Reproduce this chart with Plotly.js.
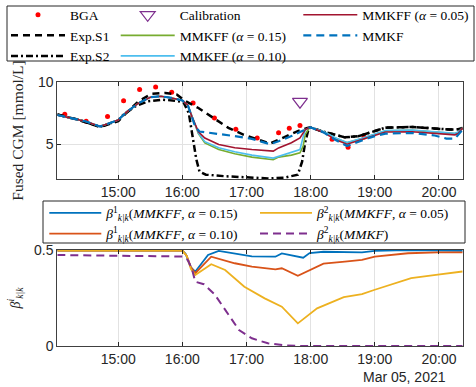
<!DOCTYPE html>
<html><head><meta charset="utf-8">
<script src="https://cdn.plot.ly/plotly-3.0.1.min.js"></script>
<style>html,body{margin:0;padding:0;background:#fff}</style>
</head><body><div id="chart" style="width:476px;height:387px"></div>
<script>
const day = '2021-03-05 ';
const tickLabels = ['15:00','16:00','17:00','18:00','19:00','20:00'];
const xRange = ['14:03:00','20:22:30'];
const dateLabel = 'Mar 05, 2021';

// BGA reference measurements
const bgaTime = ['14:10','14:30','14:50','15:05','15:20','15:35','15:50','16:10','16:30','16:50','17:10','17:30','17:40','17:50','18:20','18:35','18:50'];
const bgaValue = [7.41,6.85,7.22,8.49,9.40,9.60,9.18,8.32,7.10,6.21,5.49,5.91,6.29,6.51,5.39,4.75,5.57];
// Calibration
const calibTime = ['17:50'];
const calibValue = [8.42];
// Exp.S1
const s1Time = ['14:03','14:22','14:43','15:00','15:08','15:19','15:31','15:44','15:55','16:02','16:15','16:31','16:43','16:57','17:10','17:22','17:35','17:48','17:57','18:00','18:10','18:22','18:32','18:45','19:00','19:10','19:35','19:56','20:10','20:18','20:22'];
const s1Value = [7.38,6.98,6.37,6.85,7.55,8.45,9.04,9.12,8.98,8.50,7.91,7.03,6.31,5.77,5.37,5.05,5.55,6.05,6.30,6.35,6.05,5.75,5.55,5.65,6.05,6.33,6.38,6.25,6.18,6.20,6.30];
// Exp.S2
const s2Time = ['14:03','14:22','14:43','15:00','15:03','15:16','15:28','15:41','15:53','16:01','16:06','16:10','16:13','16:16','16:22','16:40','17:00','17:20','17:35','17:45','17:48','17:52','17:55','17:58','18:00','18:10','18:22','18:32','18:45','19:00','19:10','19:35','19:56','20:10','20:18','20:22'];
const s2Value = [7.38,6.98,6.40,6.90,7.25,8.05,8.45,8.58,8.50,8.38,7.50,5.50,3.80,2.80,2.55,2.42,2.33,2.25,2.30,2.45,2.55,3.60,5.20,6.20,6.35,6.05,5.75,5.55,5.65,6.05,6.33,6.38,6.25,6.18,6.20,6.30];
// MMKFF (shared time grid)
const mmkffTime = ['14:03','14:20','14:30','14:43','14:55','15:00','15:08','15:19','15:30','15:40','15:50','16:00','16:05','16:09','16:15','16:21','16:34','16:49','17:05','17:25','17:30','17:42','17:50','17:53','17:55','17:58','18:00','18:12','18:23','18:34','18:48','19:00','19:10','19:35','19:56','20:07','20:15','20:18','20:22'];
const mmkff015 = [7.35,7.00,6.82,6.42,6.75,6.95,7.60,8.30,8.78,8.85,8.72,8.52,8.15,7.20,5.85,5.10,4.57,4.23,3.96,3.75,3.96,4.12,4.31,4.84,5.80,6.20,6.35,6.01,5.50,5.12,5.45,5.80,6.08,6.12,6.00,5.90,5.85,5.95,6.30];
const mmkff010 = [7.35,7.00,6.82,6.42,6.75,6.95,7.60,8.30,8.78,8.85,8.72,8.52,8.15,7.20,5.90,5.20,4.71,4.39,4.12,3.88,4.01,4.31,4.57,5.60,6.15,6.30,6.35,6.03,5.52,5.14,5.47,5.82,6.10,6.14,6.02,5.92,5.87,5.97,6.30];
const mmkff005 = [7.35,7.00,6.82,6.42,6.75,6.95,7.60,8.30,8.78,8.85,8.72,8.52,8.15,7.20,6.00,5.50,4.97,4.71,4.57,4.44,4.70,5.11,5.51,5.90,6.18,6.30,6.35,5.95,5.37,5.00,5.37,5.70,5.98,6.00,5.88,5.80,5.75,5.85,6.30];
// MMKF
const mmkfTime = ['14:03','14:20','14:30','14:43','14:55','15:00','15:08','15:19','15:30','15:40','15:50','16:00','16:05','16:09','16:12','16:16','16:34','16:49','17:05','17:22','17:30','17:42','17:53','17:57','18:00','18:12','18:23','18:34','18:48','19:00','19:10','19:35','19:56','20:07','20:15','20:22'];
const mmkfValue = [7.35,7.00,6.82,6.42,6.75,6.95,7.60,8.30,8.78,8.85,8.72,8.52,8.15,7.20,6.40,6.02,5.83,5.65,5.43,5.00,5.24,5.65,6.10,6.31,6.35,5.95,5.35,4.85,5.30,5.65,5.85,5.90,5.70,5.45,5.45,6.15];

// Bottom: beta weights
const b1aTime = ['14:03','16:00','16:03','16:08','16:12','16:24','16:34','16:49','17:05','17:27','17:33','17:53','17:59','18:12','18:30','18:48','19:00','19:30','20:22'];
const b1aValue = [0.497,0.497,0.48,0.41,0.387,0.474,0.495,0.483,0.467,0.465,0.482,0.460,0.484,0.491,0.489,0.488,0.495,0.499,0.496];
const b1bTime = ['14:03','16:00','16:04','16:08','16:12','16:27','16:49','17:05','17:27','17:33','17:48','17:59','18:12','18:32','18:48','19:00','19:16','19:31','19:59','20:22'];
const b1bValue = [0.497,0.497,0.47,0.41,0.379,0.465,0.431,0.413,0.399,0.405,0.366,0.396,0.429,0.439,0.448,0.465,0.474,0.483,0.488,0.488];
const b2aTime = ['14:03','16:00','16:04','16:08','16:12','16:27','16:40','16:58','17:17','17:33','17:48','18:06','18:31','18:48','19:00','19:16','19:34','19:59','20:22'];
const b2aValue = [0.497,0.497,0.47,0.40,0.370,0.426,0.396,0.309,0.248,0.205,0.118,0.196,0.254,0.270,0.293,0.322,0.353,0.372,0.388];
const b2bTime = ['14:03','15:30','15:45','16:00','16:05','16:09','16:12','16:20','16:30','16:41','16:53','17:05','17:20','17:35','17:50','20:22'];
const b2bValue = [0.474,0.470,0.466,0.466,0.448,0.400,0.335,0.322,0.270,0.179,0.083,0.040,0.014,0.004,0,0];

const D = a => a.map(t => day + t);
const W = 476, H = 387;
const px = v => v / W, py = v => 1 - v / H;

const serif = 'Liberation Serif, DejaVu Serif, serif';
const sans = 'Liberation Sans, Arial, sans-serif';

const data = [
  {x: D(bgaTime), y: bgaValue, name: 'BGA', mode: 'markers', marker: {color: '#FF0000', size: 5}, legend: 'legend', xaxis: 'x', yaxis: 'y'},
  {x: D(s1Time), y: s1Value, name: 'Exp.S1', mode: 'lines', line: {color: '#000', width: 2.5, dash: '7px,5px'}, legend: 'legend', xaxis: 'x', yaxis: 'y'},
  {x: D(s2Time), y: s2Value, name: 'Exp.S2', mode: 'lines', line: {color: '#000', width: 2.5, dash: '7px,3px,2px,3px'}, legend: 'legend', xaxis: 'x', yaxis: 'y'},
  {x: D(calibTime), y: calibValue, name: 'Calibration', mode: 'markers', marker: {symbol: 'triangle-down-open', color: '#7E2F8E', size: 13, line: {width: 1.2}}, legend: 'legend2', xaxis: 'x', yaxis: 'y'},
  {x: D(mmkffTime), y: mmkff015, name: 'MMKFF (<i>α</i> = 0.15)', mode: 'lines', line: {color: '#77AC30', width: 1.6}, legend: 'legend2', xaxis: 'x', yaxis: 'y'},
  {x: D(mmkffTime), y: mmkff010, name: 'MMKFF (<i>α</i> = 0.10)', mode: 'lines', line: {color: '#4DBEEE', width: 1.6}, legend: 'legend2', xaxis: 'x', yaxis: 'y'},
  {x: D(mmkffTime), y: mmkff005, name: 'MMKFF (<i>α</i> = 0.05)', mode: 'lines', line: {color: '#A2142F', width: 1.6}, legend: 'legend3', xaxis: 'x', yaxis: 'y'},
  {x: D(mmkfTime), y: mmkfValue, name: 'MMKF', mode: 'lines', line: {color: '#0072BD', width: 2.2, dash: '8px,5px'}, legend: 'legend3', xaxis: 'x', yaxis: 'y'},

  {x: D(b1aTime), y: b1aValue, name: '<i>β</i><sup>1</sup><sub><i>k|k</i></sub>(<i>MMKFF</i>, <i>α</i> = 0.15)', mode: 'lines', line: {color: '#0072BD', width: 1.8}, legend: 'legend4', xaxis: 'x2', yaxis: 'y2'},
  {x: D(b1bTime), y: b1bValue, name: '<i>β</i><sup>1</sup><sub><i>k|k</i></sub>(<i>MMKFF</i>, <i>α</i> = 0.10)', mode: 'lines', line: {color: '#D95319', width: 1.8}, legend: 'legend4', xaxis: 'x2', yaxis: 'y2'},
  {x: D(b2aTime), y: b2aValue, name: '<i>β</i><sup>2</sup><sub><i>k|k</i></sub>(<i>MMKFF</i>, <i>α</i> = 0.05)', mode: 'lines', line: {color: '#EDB120', width: 1.8}, legend: 'legend5', xaxis: 'x2', yaxis: 'y2'},
  {x: D(b2bTime), y: b2bValue, name: '<i>β</i><sup>2</sup><sub><i>k|k</i></sub>(<i>MMKF</i>)', mode: 'lines', line: {color: '#7E2F8E', width: 2, dash: '8px,5px'}, legend: 'legend5', xaxis: 'x2', yaxis: 'y2'}
];

const axBase = {
  showline: true, mirror: 'ticks', linecolor: '#404040', linewidth: 1,
  ticks: 'inside', ticklen: 4, tickcolor: '#262626', tickwidth: 1,
  showgrid: true, gridcolor: '#e2e2e2', gridwidth: 1, zeroline: false,
  tickfont: {family: sans, size: 14, color: '#262626'}, automargin: false, fixedrange: true
};
const xBase = Object.assign({}, axBase, {
  type: 'date', range: D(xRange), tickvals: D(tickLabels), ticktext: tickLabels,
  domain: [px(57.3), px(463)]
});
const legBase = {
  xanchor: 'left', yanchor: 'top', bgcolor: 'rgba(0,0,0,0)', borderwidth: 0,
  font: {family: serif, size: 13.5, color: '#000'}, itemwidth: 54, tracegroupgap: 0,
  orientation: 'v', xref: 'paper', yref: 'paper'
};
const legFontB = {family: serif, size: 13.5, color: '#000'};

const layout = {
  width: W, height: H, autosize: false,
  margin: {l: 0, r: 0, t: 0, b: 0, pad: 0, autoexpand: false},
  paper_bgcolor: '#fff', plot_bgcolor: '#fff',
  showlegend: true,
  xaxis: Object.assign({}, xBase, {anchor: 'y'}),
  yaxis: Object.assign({}, axBase, {
    domain: [py(179), py(82)], range: [2.2, 10], tickvals: [5, 10], anchor: 'x',
    title: {text: 'Fused CGM [mmol/L]', font: {family: serif, size: 15.5, color: '#262626'}, standoff: 10}
  }),
  xaxis2: Object.assign({}, xBase, {anchor: 'y2'}),
  yaxis2: Object.assign({}, axBase, {
    domain: [py(346), py(250)], range: [0, 0.5], tickvals: [0, 0.5], ticktext: ['0', '0.5'], anchor: 'x2',
    layer: 'below traces',
    title: {text: '<i>β</i><sup><i>i</i></sup><sub><i>k|k</i></sub>', font: {family: serif, size: 14, color: '#262626'}, standoff: 10}
  }),
  legend: Object.assign({}, legBase, {x: px(6), y: py(-0.5)}),
  legend2: Object.assign({}, legBase, {x: px(115.7), y: py(-0.5)}),
  legend3: Object.assign({}, legBase, {x: px(298.3), y: py(-0.5)}),
  legend4: Object.assign({}, legBase, {x: px(44.3), y: py(197.7), itemwidth: 52, font: legFontB}),
  legend5: Object.assign({}, legBase, {x: px(255), y: py(197.7), itemwidth: 52, font: legFontB}),
  shapes: [
    {type: 'rect', xref: 'paper', yref: 'paper', x0: px(7), x1: px(474), y0: py(61), y1: py(6), line: {color: '#262626', width: 1}},
    {type: 'rect', xref: 'paper', yref: 'paper', x0: px(43), x1: px(465), y0: py(243), y1: py(201), line: {color: '#262626', width: 1}}
  ],
  annotations: [
    {text: dateLabel, xref: 'paper', yref: 'paper', x: px(448), y: py(377), xanchor: 'right', yanchor: 'middle', showarrow: false, font: {family: sans, size: 14, color: '#262626'}}
  ]
};

Plotly.newPlot('chart', data, layout, {displayModeBar: false, staticPlot: true});
</script>
</body></html>
